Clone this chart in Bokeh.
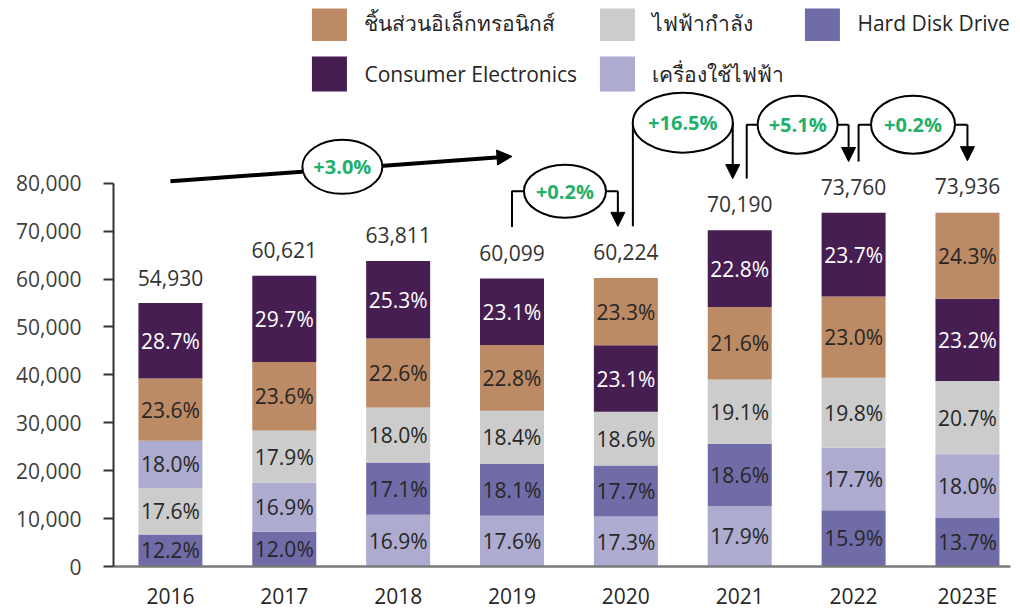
from bokeh.plotting import figure
from bokeh.models import (ColumnDataSource, LinearAxis, FixedTicker, NumeralTickFormatter,
                          Arrow, NormalHead, Range1d)
from bokeh.embed import file_html
from bokeh.resources import INLINE
from bokeh.core.properties import value

# ---------------- data ----------------
years = ["2016", "2017", "2018", "2019", "2020", "2021", "2022", "2023E"]
totals = [54930, 60621, 63811, 60099, 60224, 70190, 73760, 73936]

series = ["ชิ้นส่วนอิเล็กทรอนิกส์", "ไฟฟ้ากำลัง", "Hard Disk Drive",
          "Consumer Electronics", "เครื่องใช้ไฟฟ้า"]
components = [23.6, 23.6, 22.6, 22.8, 23.3, 21.6, 23.0, 24.3]
power = [17.6, 17.9, 18.0, 18.4, 18.6, 19.1, 19.8, 20.7]
hdd = [12.2, 12.0, 17.1, 18.1, 17.7, 18.6, 15.9, 13.7]
consumer = [28.7, 29.7, 25.3, 23.1, 23.1, 22.8, 23.7, 23.2]
appliances = [18.0, 16.9, 16.9, 17.6, 17.3, 17.9, 17.7, 18.0]

cagr_label = "+3.0%"          # 2016 -> 2019
yoy_labels = ["+0.2%", "+16.5%", "+5.1%", "+0.2%"]   # 2019->2020 ... 2022->2023E

y_ticks = [0, 10000, 20000, 30000, 40000, 50000, 60000, 70000, 80000]

# ---------------- styles ----------------
colors = ["#BC8A64", "#CCCCCC", "#706CA8", "#461E52", "#ADABD0"]
label_colors = ["#262626", "#262626", "#262626", "#FFFFFF", "#262626"]
FONT = "Open Sans"
GREEN = "#22B06B"
FS = "21px"

# layout helpers (pixel -> data), for annotations only
XU = 113.86          # px per category
YU = 48.25 / 10000   # px per value unit
X0_PX, Y0_PX = 170, 570
def dx(px): return (px - X0_PX) / XU
def dy(py): return (Y0_PX - py) / YU
GAP = 26 / YU        # total label offset above bar
ARR_GAP = 52 / YU    # bracket ends above bar

p = figure(width=1016, height=612,
           x_range=Range1d(-0.5, -0.5 + 897 / XU), y_range=Range1d(dy(570), dy(8)),
           output_backend="svg", toolbar_location=None,
           x_axis_type=None, y_axis_type=None,
           min_border_left=113, min_border_right=6, min_border_top=8, min_border_bottom=42)
p.outline_line_color = None
p.background_fill_color = "white"

# ---------------- stacked bars (sorted ascending within each year) ----------------
vals = [components, power, hdd, consumer, appliances]
d = dict(x=[], bottom=[], top=[], mid=[], color=[], label=[], tcolor=[])
for i in range(len(years)):
    order = sorted(range(5), key=lambda k: vals[k][i])
    cum = 0.0
    for k in order:
        h = totals[i] * vals[k][i] / 100.0
        d["x"].append(i)
        d["bottom"].append(cum)
        d["top"].append(cum + h)
        d["mid"].append(cum + h / 2)
        d["color"].append(colors[k])
        d["label"].append(f"{vals[k][i]:.1f}%")
        d["tcolor"].append(label_colors[k])
        cum += h
src = ColumnDataSource(d)
p.vbar(x="x", bottom="bottom", top="top", width=0.562, fill_color="color",
       line_color=None, source=src)
p.text(x="x", y="mid", text="label", text_color="tcolor", source=src,
       text_align="center", text_baseline="middle",
       text_font=value(FONT), text_font_size=FS)

# totals
tsrc = ColumnDataSource(dict(x=list(range(len(years))),
                             y=[t + GAP for t in totals],
                             text=[f"{t:,}" for t in totals]))
p.text(x="x", y="y", text="text", source=tsrc, text_align="center", text_baseline="middle",
       text_color="#333333", text_font=value(FONT), text_font_size=FS)

# ---------------- axes ----------------
yax = LinearAxis(bounds=(0, 80000), ticker=FixedTicker(ticks=y_ticks),
                 formatter=NumeralTickFormatter(format="0,0"))
yax.axis_line_color = "#333333"
yax.axis_line_width = 2
yax.major_tick_line_color = "#333333"
yax.major_tick_line_width = 2
yax.major_tick_out = 10
yax.major_tick_in = 0
yax.minor_tick_out = 0
yax.minor_tick_in = 0
yax.major_label_standoff = 22
yax.major_label_text_font = FONT
yax.major_label_text_font_size = FS
yax.major_label_text_color = "#404040"
p.add_layout(yax, "left")

xax = LinearAxis(ticker=FixedTicker(ticks=list(range(len(years)))),
                 major_label_overrides={i: y for i, y in enumerate(years)})
xax.axis_line_color = "#7A7A7A"
xax.axis_line_width = 2.5
xax.major_tick_out = 0
xax.major_tick_in = 0
xax.minor_tick_out = 0
xax.minor_tick_in = 0
xax.major_label_standoff = 15
xax.major_label_text_font = FONT
xax.major_label_text_font_size = FS
xax.major_label_text_color = "#262626"
p.add_layout(xax, "below")

# ---------------- growth annotations ----------------
ell_x, ell_y, ell_w, ell_h, ell_t = [], [], [], [], []

# CAGR arrow 2016 -> 2019
cx0, cy0, cx1, cy1 = 0, dy(182), 3, dy(157)
p.add_layout(Arrow(x_start=cx0, y_start=cy0, x_end=cx1, y_end=cy1, line_width=4,
                   line_color="black",
                   end=NormalHead(size=15, fill_color="black", line_color="black")))
ell_x.append((cx0 + cx1) / 2 + 0.01)
ell_y.append((cy0 + cy1) / 2 + dy(0) - dy(2))
ell_w.append(80); ell_h.append(54); ell_t.append(cagr_label)

# year-on-year brackets: (left offset px, right offset px, top py, ellipse w, h)
bracket_layout = [(0, -8, 192, 82, 53), (7, -7, 123, 100, 60),
                  (7, -5, 125, 80, 58), (5, 0, 125, 84, 58)]
for j, lab in enumerate(yoy_labels):
    i0, i1 = 3 + j, 4 + j
    lo, ro, top_py, w, h = bracket_layout[j]
    xl, xr = i0 + lo / XU, i1 + ro / XU
    ytop = dy(top_py)
    p.line([xl, xl, xr], [totals[i0] + ARR_GAP, ytop, ytop],
           line_color="black", line_width=2)
    p.add_layout(Arrow(x_start=xr, y_start=ytop, x_end=xr, y_end=totals[i1] + ARR_GAP,
                       line_width=2, line_color="black",
                       end=NormalHead(size=14, fill_color="black", line_color="black")))
    ell_x.append((xl + xr) / 2)
    ell_y.append(ytop)
    ell_w.append(w); ell_h.append(h); ell_t.append(lab)

esrc = ColumnDataSource(dict(x=ell_x, y=ell_y, w=ell_w, h=ell_h, t=ell_t))
er = p.ellipse(x="x", y="y", width="w", height="h", width_units="screen", height_units="screen",
               fill_color="white", line_color="black", line_width=2, source=esrc)
er.level = "overlay"
tr = p.text(x="x", y="y", text="t", source=esrc, text_align="center", text_baseline="middle",
            text_color=GREEN, text_font=value(FONT), text_font_size="20px",
            text_font_style="bold")
tr.level = "overlay"

# ---------------- legend (manual, 3 columns x 2 rows) ----------------
leg_px = [(329, 23), (617, 23), (822, 23), (329, 74), (617, 74)]
lsrc = ColumnDataSource(dict(
    x=[dx(a) for a, b in leg_px], y=[dy(b) for a, b in leg_px],
    tx=[dx(a + 19) for a, b in leg_px], color=colors, name=series))
p.rect(x="x", y="y", width=35, height=35, width_units="screen", height_units="screen",
       fill_color="color", line_color=None, source=lsrc)
p.text(x="tx", y="y", text="name", source=lsrc, text_align="left", text_baseline="middle",
       text_color="#262626", text_font=value(FONT), text_font_size=FS, x_offset=16)

open("out.html", "w").write(file_html(p, INLINE))
